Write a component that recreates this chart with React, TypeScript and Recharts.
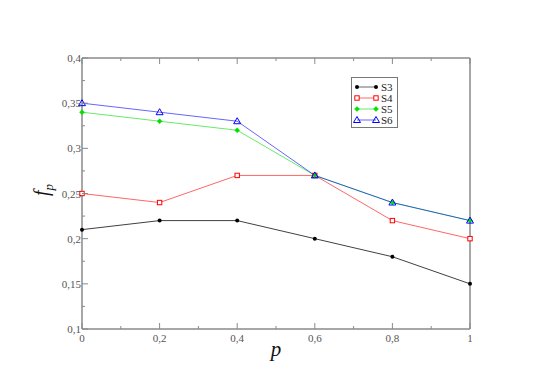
import { LineChart, Line, XAxis, YAxis } from 'recharts';

const P_VALUES = [0, 0.2, 0.4, 0.6, 0.8, 1];
const S3 = [0.21, 0.22, 0.22, 0.2, 0.18, 0.15];
const S4 = [0.25, 0.24, 0.27, 0.27, 0.22, 0.2];
const S5 = [0.34, 0.33, 0.32, 0.27, 0.24, 0.22];
const S6 = [0.35, 0.34, 0.33, 0.27, 0.24, 0.22];

const X_MAJOR = [0, 0.2, 0.4, 0.6, 0.8, 1];
const X_MINOR = [0.1, 0.3, 0.5, 0.7, 0.9];
const Y_MAJOR = [0.1, 0.15, 0.2, 0.25, 0.3, 0.35, 0.4];
const Y_MINOR = [0.125, 0.175, 0.225, 0.275, 0.325, 0.375];

const data = P_VALUES.map((p, i) => ({ p, S3: S3[i], S4: S4[i], S5: S5[i], S6: S6[i] }));

const X_TICKS = [...X_MAJOR, ...X_MINOR].sort((a, b) => a - b);
const Y_TICKS = [...Y_MAJOR, ...Y_MINOR].sort((a, b) => a - b);

const AXIS_COLOR = '#8a8a8a';
const FONT = 'Liberation Serif, serif';
const comma = (v: number) => String(v).replace('.', ',');
const isMajor = (list: number[], v: number) => list.some((m) => Math.abs(m - v) < 1e-6);

type Side = 'bottom' | 'top' | 'left' | 'right';

// draws inward tick marks (long for major, short for minor) plus labels on bottom/left
function makeTick(side: Side, majors: number[]) {
  return (props: any) => {
    const { x, y, payload } = props;
    const v = payload.value as number;
    const major = isMajor(majors, v);
    const len = major ? 6 : 3;
    let line;
    if (side === 'bottom') line = <line x1={x} x2={x} y1={y} y2={y - len} />;
    else if (side === 'top') line = <line x1={x} x2={x} y1={y} y2={y + len} />;
    else if (side === 'left') line = <line x1={x} x2={x + len} y1={y} y2={y} />;
    else line = <line x1={x} x2={x - len} y1={y} y2={y} />;
    return (
      <g>
        <g stroke={AXIS_COLOR} strokeWidth={1}>{line}</g>
        {major && side === 'bottom' && (
          <text x={x} y={y + 13} textAnchor="middle" fontFamily={FONT} fontSize={11} fill="#555">
            {comma(v)}
          </text>
        )}
        {major && side === 'left' && (
          <text x={x - 1} y={y + 4} textAnchor="end" fontFamily={FONT} fontSize={11} fill="#555">
            {comma(v)}
          </text>
        )}
      </g>
    );
  };
}

type Shape = 'circle' | 'square' | 'diamond' | 'triangle';

const SERIES: { key: string; color: string; shape: Shape }[] = [
  { key: 'S3', color: '#000000', shape: 'circle' },
  { key: 'S4', color: '#ff0000', shape: 'square' },
  { key: 'S5', color: '#00e000', shape: 'diamond' },
  { key: 'S6', color: '#0000ff', shape: 'triangle' },
];

function Marker({ cx, cy, color, shape }: { cx: number; cy: number; color: string; shape: Shape }) {
  if (cx == null || cy == null) return null;
  if (shape === 'circle') return <circle cx={cx} cy={cy} r={2} fill={color} />;
  if (shape === 'square')
    return <rect x={cx - 2.2} y={cy - 2.2} width={4.4} height={4.4} fill="white" stroke={color} strokeWidth={1} />;
  if (shape === 'diamond')
    return (
      <path
        d={`M${cx},${cy - 2.5} L${cx + 2.5},${cy} L${cx},${cy + 2.5} L${cx - 2.5},${cy} Z`}
        fill={color}
        stroke={color}
        strokeWidth={0.5}
      />
    );
  return (
    <path
      d={`M${cx},${cy - 3.5} L${cx + 3.5},${cy + 2.5} L${cx - 3.5},${cy + 2.5} Z`}
      fill="none"
      stroke={color}
      strokeWidth={1}
    />
  );
}

function LegendBox() {
  return (
    <svg width={48} height={52} style={{ display: 'block' }}>
      <rect x={0.5} y={0.5} width={46} height={50} fill="white" stroke="#777" strokeWidth={1} />
      {SERIES.map((s, i) => {
        const y = 10 + i * 11;
        return (
          <g key={s.key}>
            <line x1={6} x2={25} y1={y} y2={y} stroke={s.color} strokeOpacity={0.6} strokeWidth={1} />
            <Marker cx={6} cy={y} color={s.color} shape={s.shape} />
            <Marker cx={25} cy={y} color={s.color} shape={s.shape} />
            <text x={30} y={y + 4} fontFamily={FONT} fontSize={11} fill="#222">
              {s.key}
            </text>
          </g>
        );
      })}
    </svg>
  );
}

export default function App() {
  return (
    <div style={{ position: 'absolute', left: 0, top: 0, width: 549, height: 388, background: 'white' }}>
      <LineChart width={549} height={388} data={data} margin={{ top: 57, right: 78, bottom: 58, left: 81 }}>
        <XAxis
          xAxisId="b"
          dataKey="p"
          type="number"
          domain={[0, 1]}
          ticks={X_TICKS}
          interval={0}
          height={1}
          stroke={AXIS_COLOR}
          strokeWidth={1.5}
          tickLine={false}
          tickSize={0}
          tickMargin={0}
          tick={makeTick('bottom', X_MAJOR)}
        />
        <XAxis
          xAxisId="t"
          orientation="top"
          dataKey="p"
          type="number"
          domain={[0, 1]}
          ticks={X_TICKS}
          interval={0}
          height={1}
          stroke={AXIS_COLOR}
          strokeWidth={1.5}
          tickLine={false}
          tickSize={0}
          tickMargin={0}
          tick={makeTick('top', X_MAJOR)}
        />
        <YAxis
          yAxisId="l"
          type="number"
          domain={[0.1, 0.4]}
          ticks={Y_TICKS}
          interval={0}
          width={1}
          stroke={AXIS_COLOR}
          strokeWidth={1.5}
          tickLine={false}
          tickSize={0}
          tickMargin={0}
          tick={makeTick('left', Y_MAJOR)}
        />
        <YAxis
          yAxisId="r"
          orientation="right"
          type="number"
          domain={[0.1, 0.4]}
          ticks={Y_TICKS}
          interval={0}
          width={1}
          stroke={AXIS_COLOR}
          strokeWidth={1.5}
          tickLine={false}
          tickSize={0}
          tickMargin={0}
          tick={makeTick('right', Y_MAJOR)}
        />
        {SERIES.map((s) => (
          <Line
            key={s.key}
            xAxisId="b"
            yAxisId="l"
            type="linear"
            dataKey={s.key}
            stroke={s.color}
            strokeOpacity={s.key === 'S3' ? 0.75 : 0.6}
            strokeWidth={1}
            isAnimationActive={false}
            dot={(props: any) => (
              <Marker key={`${s.key}-${props.index}`} cx={props.cx} cy={props.cy} color={s.color} shape={s.shape} />
            )}
            activeDot={false}
          />
        ))}
      </LineChart>
      <div style={{ position: 'absolute', left: 351, top: 77 }}>
        <LegendBox />
      </div>
      <div
        style={{
          position: 'absolute',
          left: 26,
          top: 178,
          width: 30,
          height: 24,
          transform: 'rotate(-90deg)',
          fontFamily: FONT,
          fontStyle: 'italic',
          fontSize: 20,
          color: '#111',
          lineHeight: '24px',
          textAlign: 'center',
          whiteSpace: 'nowrap',
        }}
      >
        f<sub style={{ fontSize: 13 }}>p</sub>
      </div>
      <div
        style={{
          position: 'absolute',
          left: 266,
          top: 337,
          width: 20,
          fontFamily: FONT,
          fontStyle: 'italic',
          fontSize: 21,
          color: '#111',
          textAlign: 'center',
        }}
      >
        p
      </div>
    </div>
  );
}
